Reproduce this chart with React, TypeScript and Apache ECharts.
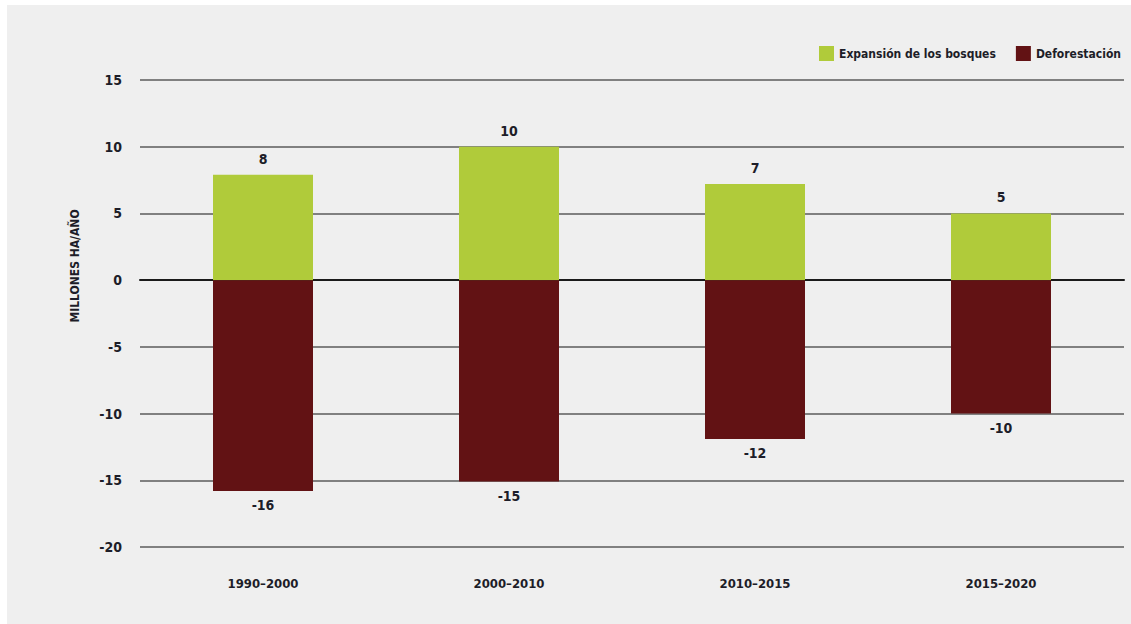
import React, { useEffect, useRef } from "react";
import * as echarts from "echarts";

const categories = ["1990–2000", "2000–2010", "2010–2015", "2015–2020"];
const expansion = [7.9, 10.0, 7.2, 5.0];
const deforestation = [-15.8, -15.1, -11.9, -10.0];
const seriesNames = ["Expansión de los bosques", "Deforestación"];
const yAxisTitle = "MILLONES HA/AÑO";

const FONT = '"Liberation Sans Narrow", "DejaVu Sans Condensed", sans-serif';
const TEXT = "#1d1d28";

export default function App() {
  const ref = useRef<HTMLDivElement>(null);
  useEffect(() => {
    if (!ref.current) return;
    const chart = echarts.init(ref.current, undefined, { renderer: "svg" });
    chart.setOption({
      animation: false,
      backgroundColor: "transparent",
      textStyle: { fontFamily: FONT },
      legend: {
        right: 5,
        top: 41,
        itemWidth: 15,
        itemHeight: 15,
        itemGap: 20,
        icon: "rect",
        textStyle: { fontFamily: FONT, fontWeight: "bold", fontSize: 12, color: TEXT },
        data: seriesNames,
      },
      grid: { left: 140, right: 7, top: 80, bottom: 77, containLabel: false },
      xAxis: {
        type: "category",
        data: categories,
        axisLine: { onZero: true, lineStyle: { color: "#1a1a1a", width: 2 } },
        axisTick: { show: false },
        axisLabel: {
          fontFamily: FONT,
          fontWeight: "bold",
          fontSize: 13,
          color: TEXT,
          margin: 30,
          interval: 0,
        },
      },
      yAxis: {
        type: "value",
        min: -20,
        max: 15,
        interval: 5,
        axisLine: { show: false },
        axisTick: { show: false },
        splitLine: { lineStyle: { color: "#808080", width: 2 } },
        axisLabel: {
          fontFamily: FONT,
          fontWeight: "bold",
          fontSize: 14,
          color: TEXT,
          margin: 18,
        },
      },
      graphic: [
        {
          type: "text",
          x: 75,
          y: 266,
          rotation: Math.PI / 2,
          style: {
            text: yAxisTitle,
            fontFamily: FONT,
            fontWeight: "bold",
            fontSize: 12,
            fill: TEXT,
            textAlign: "center",
            textVerticalAlign: "middle",
          },
        },
      ],
      series: [
        {
          name: seriesNames[0],
          type: "bar",
          data: expansion,
          barWidth: 100,
          barGap: "-100%",
          itemStyle: { color: "#b0cb3a" },
          label: {
            show: true,
            position: "top",
            distance: 9,
            fontFamily: FONT,
            fontWeight: "bold",
            fontSize: 14,
            color: TEXT,
            formatter: (p: any) => String(Math.round(p.value)),
          },
          z: 3,
        },
        {
          name: seriesNames[1],
          type: "bar",
          data: deforestation,
          barWidth: 100,
          barGap: "-100%",
          itemStyle: { color: "#621214" },
          label: {
            show: true,
            position: "bottom",
            distance: 7,
            fontFamily: FONT,
            fontWeight: "bold",
            fontSize: 14,
            color: TEXT,
            formatter: (p: any) => String(Math.round(p.value)),
          },
          z: 3,
        },
      ],
    });
    return () => chart.dispose();
  }, []);
  return (
    <div style={{ position: "absolute", left: 0, top: 0, width: 1131, height: 624, background: "#ffffff" }}>
      <div style={{ position: "absolute", left: 7, top: 5, width: 1124, height: 619, background: "#efefef" }} />
      <div ref={ref} style={{ position: "absolute", left: 0, top: 0, width: 1131, height: 624 }} />
    </div>
  );
}
